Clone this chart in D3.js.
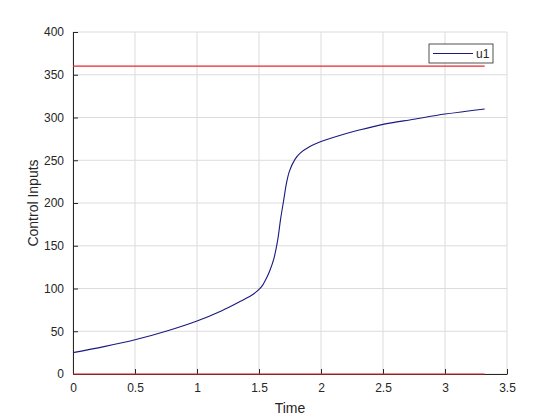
<!DOCTYPE html>
<html>
<head>
<meta charset="utf-8">
<script src="https://cdn.jsdelivr.net/npm/d3@7"></script>
<style>
  body { margin: 0; background: #fff; }
  text { font-family: Arial, "Liberation Sans", Helvetica, sans-serif; }
</style>
</head>
<body>
<script>
// time samples and control input u1
var timeVals = [0, 0.25, 0.5, 0.75, 1.0, 1.2, 1.35, 1.45, 1.5, 1.53, 1.56, 1.59, 1.62, 1.65, 1.675, 1.7, 1.72, 1.745, 1.79, 1.83, 1.91, 2.0, 2.15, 2.3, 2.5, 2.75, 3.0, 3.32];
var u1Vals   = [25, 32, 40, 50, 62, 74, 85, 93, 99, 104, 112, 122, 135, 156, 182, 204, 222, 237, 251, 258, 266, 272, 279, 285, 292, 298, 304, 310];

// limit lines (red)
var upperLimit = 360;
var lowerLimit = 0;
var tEnd = 3.32;

var xTicks = [0, 0.5, 1, 1.5, 2, 2.5, 3, 3.5];
var yTicks = [0, 50, 100, 150, 200, 250, 300, 350, 400];

var width = 560;
var height = 420;
var margin = {left: 73, right: 53, top: 32, bottom: 46};

var svg = d3.select('body')
  .append('svg')
  .attr('width', width)
  .attr('height', height);

var x = d3.scaleLinear().domain([0, 3.5]).range([margin.left, width - margin.right]);
var y = d3.scaleLinear().domain([0, 400]).range([height - margin.bottom, margin.top]);

// grid
var grid = svg.append('g').attr('class', 'grid');
grid.selectAll('line.vg')
  .data(xTicks)
  .enter().append('line')
  .attr('class', 'vg')
  .attr('x1', function(d) { return x(d); })
  .attr('x2', function(d) { return x(d); })
  .attr('y1', y(0))
  .attr('y2', y(400))
  .attr('stroke', '#dcdcdc')
  .attr('stroke-width', 1);
grid.selectAll('line.hg')
  .data(yTicks)
  .enter().append('line')
  .attr('class', 'hg')
  .attr('x1', x(0))
  .attr('x2', x(3.5))
  .attr('y1', function(d) { return y(d); })
  .attr('y2', function(d) { return y(d); })
  .attr('stroke', '#dcdcdc')
  .attr('stroke-width', 1);

// axes
var xAxis = d3.axisBottom(x).tickValues(xTicks).tickSizeInner(-5).tickSizeOuter(0).tickPadding(9)
  .tickFormat(function(d) { return String(d); });
var yAxis = d3.axisLeft(y).tickValues(yTicks).tickSizeInner(-5).tickSizeOuter(0).tickPadding(9);

var gx = svg.append('g')
  .attr('transform', 'translate(0,' + y(0) + ')')
  .call(xAxis);
var gy = svg.append('g')
  .attr('transform', 'translate(' + x(0) + ',0)')
  .call(yAxis);

[gx, gy].forEach(function(g) {
  g.select('.domain').attr('stroke', '#262626');
  g.selectAll('.tick line').attr('stroke', '#262626');
  g.selectAll('.tick text')
    .attr('fill', '#262626')
    .style('font-size', '12px')
    .style('font-family', 'Arial, "Liberation Sans", sans-serif');
});

// limit lines
var limits = [upperLimit, lowerLimit];
svg.selectAll('line.limit')
  .data(limits)
  .enter().append('line')
  .attr('class', 'limit')
  .attr('x1', x(0))
  .attr('x2', x(tEnd))
  .attr('y1', function(d) { return y(d); })
  .attr('y2', function(d) { return y(d); })
  .attr('stroke', '#e8262b')
  .attr('stroke-width', 1.2);

// u1 curve
var pts = timeVals.map(function(t, i) { return [t, u1Vals[i]]; });
var line = d3.line()
  .x(function(d) { return x(d[0]); })
  .y(function(d) { return y(d[1]); })
  .curve(d3.curveCatmullRom.alpha(0.5));

svg.append('path')
  .datum(pts)
  .attr('d', line)
  .attr('fill', 'none')
  .attr('stroke', '#1a1a80')
  .attr('stroke-width', 1.1);

// axis labels
svg.append('text')
  .attr('x', (x(0) + x(3.5)) / 2)
  .attr('y', 413)
  .attr('text-anchor', 'middle')
  .attr('fill', '#262626')
  .style('font-size', '14px')
  .text('Time');

svg.append('text')
  .attr('transform', 'translate(38,' + ((y(0) + y(400)) / 2) + ') rotate(-90)')
  .attr('text-anchor', 'middle')
  .attr('fill', '#262626')
  .style('font-size', '14px')
  .text('Control Inputs');

// legend
var legend = svg.append('g').attr('transform', 'translate(429,44)');
legend.append('rect')
  .attr('width', 64)
  .attr('height', 19)
  .attr('fill', '#fff')
  .attr('stroke', '#262626')
  .attr('stroke-width', 0.8);
legend.append('line')
  .attr('x1', 4)
  .attr('x2', 44)
  .attr('y1', 9.5)
  .attr('y2', 9.5)
  .attr('stroke', '#1a1a80')
  .attr('stroke-width', 1.1);
legend.append('text')
  .attr('x', 47)
  .attr('y', 14)
  .attr('fill', '#262626')
  .style('font-size', '12px')
  .text('u1');
</script>
</body>
</html>
